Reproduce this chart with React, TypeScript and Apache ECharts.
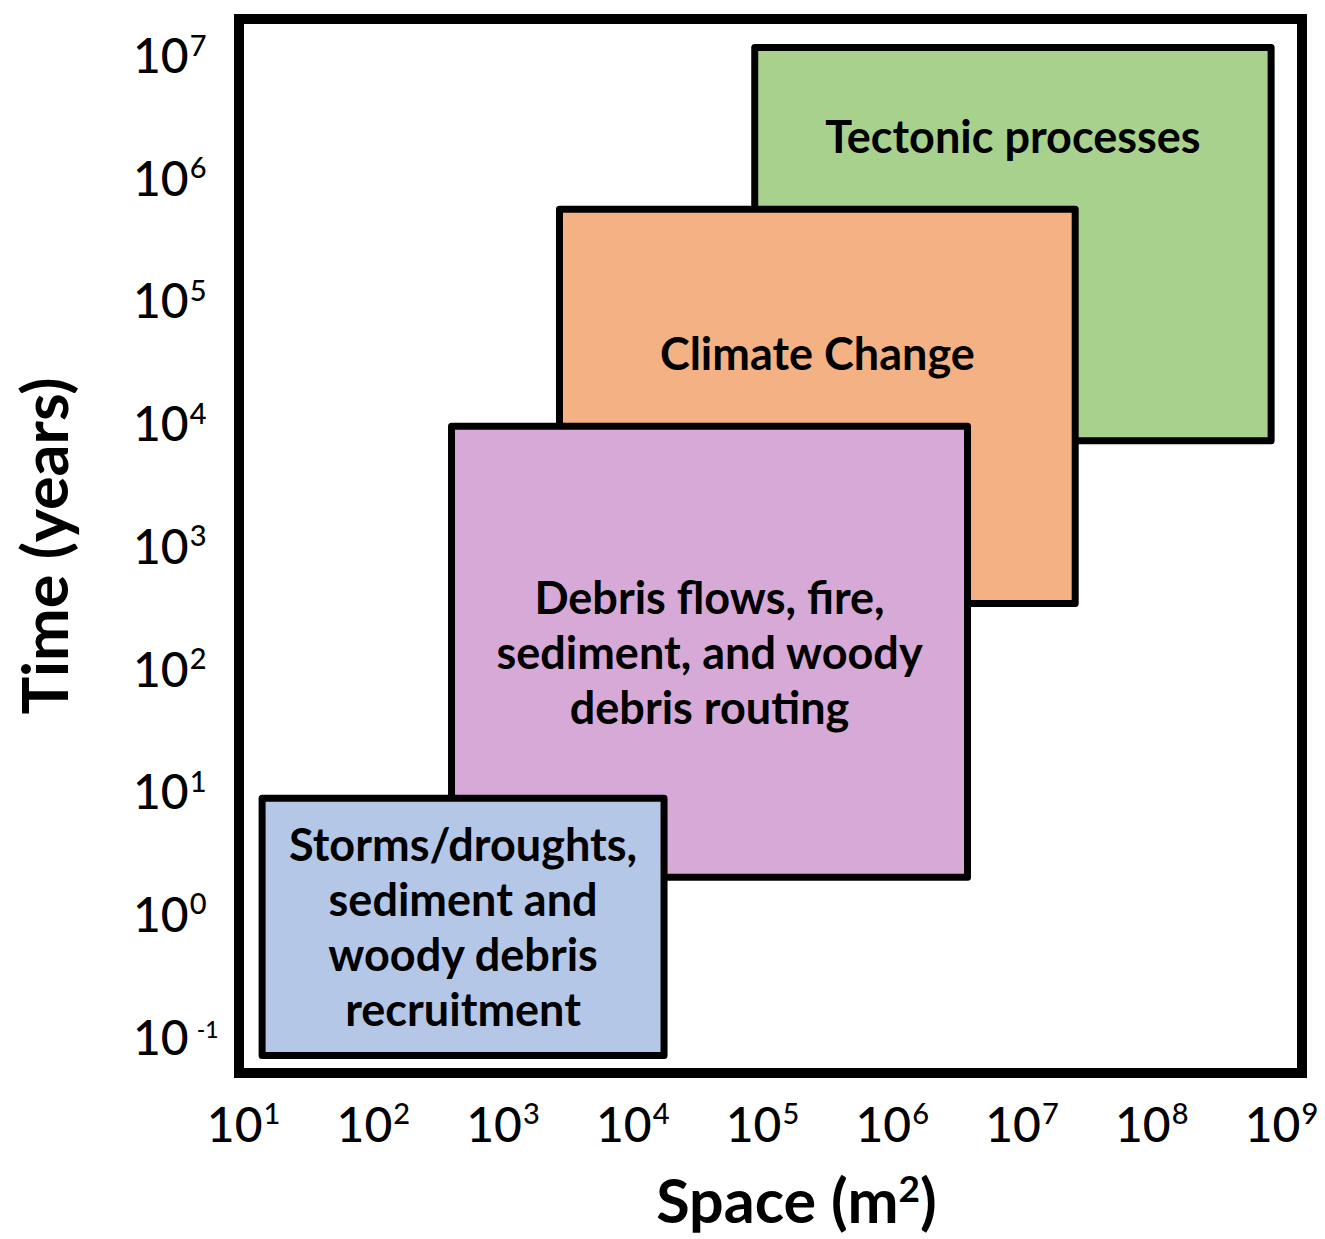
import React, { useEffect, useRef } from "react";
import * as echarts from "echarts";

// exponents of ten (log10 of space in m² and time in years)
const xTicks = [1, 2, 3, 4, 5, 6, 7, 8, 9];
const yTicks = [-1, 0, 1, 2, 3, 4, 5, 6, 7];

const processNames = [
  "Tectonic processes",
  "Climate Change",
  "Debris flows, fire,\nsediment, and woody\ndebris routing",
  "Storms/droughts,\nsediment and\nwoody debris\nrecruitment",
];
// log10 extents of each process box
const spaceFrom = [4.94, 3.435, 2.603, 1.143];
const spaceTo = [8.92, 7.41, 6.58, 4.241];
const timeFrom = [3.852, 2.526, 0.295, -1.157];
const timeTo = [7.057, 5.74, 3.97, 0.94];

const boxColors = ["#a9d18e", "#f4b183", "#d7a9d6", "#b4c7e7"];
// label placement: offset from box top in px, or null for vertical centre
const labelTopOffset: (number | null)[] = [88, 143.5, null, null];

const FONT = "Lato, 'Noto Sans', sans-serif";

export default function App() {
  const ref = useRef<HTMLDivElement>(null);
  useEffect(() => {
    if (!ref.current) return;
    const chart = echarts.init(ref.current, null, { renderer: "svg" });
    const data = processNames.map((_, i) => [spaceFrom[i], spaceTo[i], timeFrom[i], timeTo[i], i]);
    const supFmt = (v: number) =>
      v < 0 ? `{b|10}{sn|${v}}` : `{b|10}{s|${v}}`;
    const rich = {
      b: { fontSize: 48, fontFamily: FONT, fontWeight: 500, color: "#000", lineHeight: 52, verticalAlign: "middle" },
      s: { fontSize: 29, fontFamily: FONT, fontWeight: 500, color: "#000", lineHeight: 52, verticalAlign: "top", padding: [1, 0, 0, 1] },
      sn: { fontSize: 23, fontFamily: FONT, fontWeight: 500, color: "#000", lineHeight: 52, verticalAlign: "top", padding: [7, 0, 0, 8] },
    };
    chart.setOption({
      animation: false,
      grid: {
        left: 239,
        top: 19,
        width: 1063,
        height: 1054,
        show: true,
        borderWidth: 10,
        borderColor: "#000",
        backgroundColor: "#fff",
        containLabel: false,
        outerBoundsMode: "none",
      },
      xAxis: {
        type: "value",
        min: 0.965,
        max: 9.158,
        axisLine: { show: false },
        axisTick: { show: false },
        splitLine: { show: false },
        axisLabel: {
          customValues: xTicks,
          formatter: supFmt,
          rich,
          margin: 24,
        },
        name: "{a|Space (m}{s|2}{a|)}",
        nameLocation: "middle",
        nameGap: 96,
        nameTextStyle: {
          padding: [0, 0, 0, 52],
          rich: {
            a: { fontSize: 61, fontFamily: FONT, fontWeight: "bold", color: "#000", lineHeight: 60 },
            s: { fontSize: 37, fontFamily: FONT, fontWeight: "bold", color: "#000", lineHeight: 60, verticalAlign: "top" },
          },
        },
      },
      yAxis: {
        type: "value",
        min: -1.3,
        max: 7.29,
        axisLine: { show: false },
        axisTick: { show: false },
        splitLine: { show: false },
        axisLabel: {
          customValues: yTicks,
          formatter: supFmt,
          rich,
          align: "left",
          margin: 106,
        },
        name: "Time (years)",
        nameLocation: "middle",
        nameRotate: 90,
        nameGap: 164,
        nameTextStyle: { fontSize: 63, fontFamily: FONT, fontWeight: "bold", color: "#000" },
      },
      series: [
        {
          type: "custom",
          data,
          clip: false,
          renderItem: (params: any, api: any) => {
            const x0 = api.value(0), x1 = api.value(1), y0 = api.value(2), y1 = api.value(3);
            const i = api.value(4);
            const p0 = api.coord([x0, y1]);
            const p1 = api.coord([x1, y0]);
            const w = p1[0] - p0[0];
            const h = p1[1] - p0[1];
            const off = labelTopOffset[i];
            const ty = off == null ? p0[1] + h / 2 : p0[1] + off;
            return {
              type: "group",
              children: [
                {
                  type: "rect",
                  shape: { x: p0[0], y: p0[1], width: w, height: h },
                  style: { fill: boxColors[i], stroke: "#000", lineWidth: 7, lineJoin: "round" },
                },
                {
                  type: "text",
                  x: p0[0] + w / 2,
                  y: ty,
                  style: {
                    text: processNames[i],
                    fill: "#000",
                    fontSize: 45,
                    fontFamily: FONT,
                    fontWeight: "bold",
                    lineHeight: 55,
                    align: "center",
                    verticalAlign: "middle",
                  },
                },
              ],
            };
          },
        },
      ],
    });
    return () => chart.dispose();
  }, []);
  return <div ref={ref} style={{ position: "absolute", left: 0, top: 0, width: 1325, height: 1239 }} />;
}
